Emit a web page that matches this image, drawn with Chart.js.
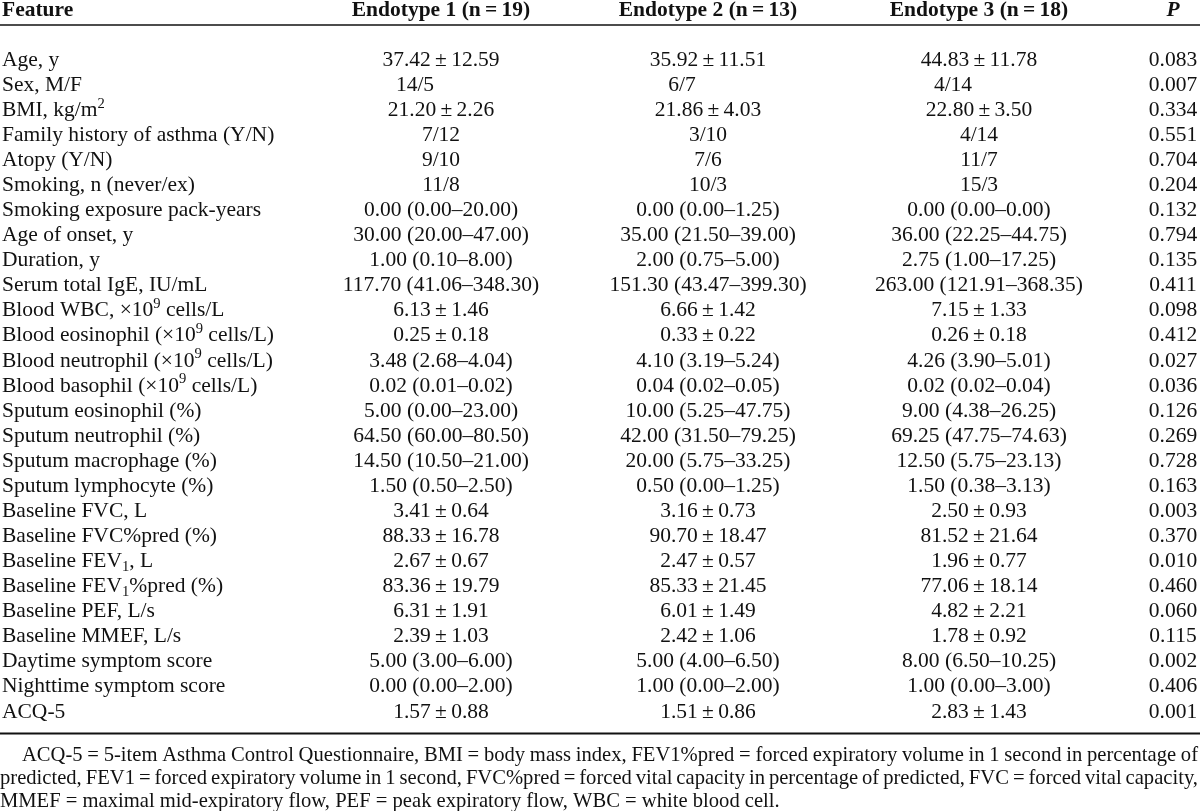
<!DOCTYPE html>
<html><head><meta charset="utf-8">
<script src="https://cdn.jsdelivr.net/npm/chart.js@4.4.1/dist/chart.umd.min.js"></script>
<style>html,body{margin:0;padding:0;background:#fff;}canvas{display:block;}</style>
</head><body>
<canvas id="c" width="1200" height="811"></canvas>
<script>
// ---- data ----
const headerFeature = "Feature";
const groupHeaders = ["Endotype 1 (n\u2009=\u200919)", "Endotype 2 (n\u2009=\u200913)", "Endotype 3 (n\u2009=\u200918)"];
const pHeader = "P";
const features = [
  "Age, y", "Sex, M/F", "BMI, kg/m^{2}", "Family history of asthma (Y/N)", "Atopy (Y/N)",
  "Smoking, n (never/ex)", "Smoking exposure pack-years", "Age of onset, y", "Duration, y",
  "Serum total IgE, IU/mL", "Blood WBC, \u00d710^{9} cells/L", "Blood eosinophil (\u00d710^{9} cells/L)",
  "Blood neutrophil (\u00d710^{9} cells/L)", "Blood basophil (\u00d710^{9} cells/L)",
  "Sputum eosinophil (%)", "Sputum neutrophil (%)", "Sputum macrophage (%)", "Sputum lymphocyte (%)",
  "Baseline FVC, L", "Baseline FVC%pred (%)", "Baseline FEV_{1}, L", "Baseline FEV_{1}%pred (%)",
  "Baseline PEF, L/s", "Baseline MMEF, L/s", "Daytime symptom score", "Nighttime symptom score", "ACQ-5"
];
const endotype1 = [
  "37.42\u2009\u00b1\u200912.59", "14/5", "21.20\u2009\u00b1\u20092.26", "7/12", "9/10", "11/8",
  "0.00 (0.00\u201320.00)", "30.00 (20.00\u201347.00)", "1.00 (0.10\u20138.00)", "117.70 (41.06\u2013348.30)",
  "6.13\u2009\u00b1\u20091.46", "0.25\u2009\u00b1\u20090.18", "3.48 (2.68\u20134.04)", "0.02 (0.01\u20130.02)",
  "5.00 (0.00\u201323.00)", "64.50 (60.00\u201380.50)", "14.50 (10.50\u201321.00)", "1.50 (0.50\u20132.50)",
  "3.41\u2009\u00b1\u20090.64", "88.33\u2009\u00b1\u200916.78", "2.67\u2009\u00b1\u20090.67", "83.36\u2009\u00b1\u200919.79",
  "6.31\u2009\u00b1\u20091.91", "2.39\u2009\u00b1\u20091.03", "5.00 (3.00\u20136.00)", "0.00 (0.00\u20132.00)", "1.57\u2009\u00b1\u20090.88"
];
const endotype2 = [
  "35.92\u2009\u00b1\u200911.51", "6/7", "21.86\u2009\u00b1\u20094.03", "3/10", "7/6", "10/3",
  "0.00 (0.00\u20131.25)", "35.00 (21.50\u201339.00)", "2.00 (0.75\u20135.00)", "151.30 (43.47\u2013399.30)",
  "6.66\u2009\u00b1\u20091.42", "0.33\u2009\u00b1\u20090.22", "4.10 (3.19\u20135.24)", "0.04 (0.02\u20130.05)",
  "10.00 (5.25\u201347.75)", "42.00 (31.50\u201379.25)", "20.00 (5.75\u201333.25)", "0.50 (0.00\u20131.25)",
  "3.16\u2009\u00b1\u20090.73", "90.70\u2009\u00b1\u200918.47", "2.47\u2009\u00b1\u20090.57", "85.33\u2009\u00b1\u200921.45",
  "6.01\u2009\u00b1\u20091.49", "2.42\u2009\u00b1\u20091.06", "5.00 (4.00\u20136.50)", "1.00 (0.00\u20132.00)", "1.51\u2009\u00b1\u20090.86"
];
const endotype3 = [
  "44.83\u2009\u00b1\u200911.78", "4/14", "22.80\u2009\u00b1\u20093.50", "4/14", "11/7", "15/3",
  "0.00 (0.00\u20130.00)", "36.00 (22.25\u201344.75)", "2.75 (1.00\u201317.25)", "263.00 (121.91\u2013368.35)",
  "7.15\u2009\u00b1\u20091.33", "0.26\u2009\u00b1\u20090.18", "4.26 (3.90\u20135.01)", "0.02 (0.02\u20130.04)",
  "9.00 (4.38\u201326.25)", "69.25 (47.75\u201374.63)", "12.50 (5.75\u201323.13)", "1.50 (0.38\u20133.13)",
  "2.50\u2009\u00b1\u20090.93", "81.52\u2009\u00b1\u200921.64", "1.96\u2009\u00b1\u20090.77", "77.06\u2009\u00b1\u200918.14",
  "4.82\u2009\u00b1\u20092.21", "1.78\u2009\u00b1\u20090.92", "8.00 (6.50\u201310.25)", "1.00 (0.00\u20133.00)", "2.83\u2009\u00b1\u20091.43"
];
const pValues = [
  "0.083", "0.007", "0.334", "0.551", "0.704", "0.204", "0.132", "0.794", "0.135", "0.411",
  "0.098", "0.412", "0.027", "0.036", "0.126", "0.269", "0.728", "0.163", "0.003", "0.370",
  "0.010", "0.460", "0.060", "0.115", "0.002", "0.406", "0.001"
];
const footnoteLines = [
  "ACQ-5 = 5-item Asthma Control Questionnaire, BMI = body mass index, FEV1%pred = forced expiratory volume in 1 second in percentage of",
  "predicted, FEV1 = forced expiratory volume in 1 second, FVC%pred = forced vital capacity in percentage of predicted, FVC = forced vital capacity,",
  "MMEF = maximal mid-expiratory flow, PEF = peak expiratory flow, WBC = white blood cell."
];

// ---- layout / style ----
const FONT = '"Liberation Serif", "Times New Roman", serif';
const SIZE = 21.5;
const FOOT_SIZE = 20.6;
const INK = '#111';

function parseRich(str) {
  const parts = [];
  const re = /(\^\{[^}]*\}|_\{[^}]*\})/g;
  let last = 0, m;
  while ((m = re.exec(str)) !== null) {
    if (m.index > last) parts.push({t: str.slice(last, m.index), k: 'n'});
    parts.push({t: m[0].slice(2, -1), k: m[0][0] === '^' ? 'sup' : 'sub'});
    last = re.lastIndex;
  }
  if (last < str.length) parts.push({t: str.slice(last), k: 'n'});
  return parts;
}
function fontFor(k, size, weight, style) {
  const s = k === 'n' ? size : size * 0.68;
  return (style || '') + ' ' + (weight || '') + ' ' + s + 'px ' + FONT;
}
function drawRich(ctx, str, x, y, align, size, weight, style) {
  const parts = parseRich(str);
  let total = 0;
  parts.forEach(p => { ctx.font = fontFor(p.k, size, weight, style); p.w = ctx.measureText(p.t).width; total += p.w; });
  let cx = align === 'center' ? x - total / 2 : (align === 'right' ? x - total : x);
  ctx.textAlign = 'left';
  ctx.textBaseline = 'alphabetic';
  const base = y + size * 0.33;
  parts.forEach(p => {
    ctx.font = fontFor(p.k, size, weight, style);
    const dy = p.k === 'sup' ? -size * 0.38 : (p.k === 'sub' ? size * 0.2 : 0);
    ctx.fillText(p.t, cx, base + dy);
    cx += p.w;
  });
}
function drawJustified(ctx, line, x0, x1, y, size, justify) {
  ctx.font = size + 'px ' + FONT;
  ctx.textAlign = 'left';
  ctx.textBaseline = 'alphabetic';
  const base = y + size * 0.33;
  const words = line.split(' ');
  const widths = words.map(w => ctx.measureText(w).width);
  const sum = widths.reduce((a, b) => a + b, 0);
  const normal = ctx.measureText(' ').width;
  const gap = justify ? Math.max(2, (x1 - x0 - sum) / (words.length - 1)) : normal;
  let cx = x0;
  words.forEach((w, i) => { ctx.fillText(w, cx, base); cx += widths[i] + gap; });
}

const tablePlugin = {
  id: 'tablePlugin',
  afterDraw(chart, args, opts) {
    const ctx = chart.ctx;
    const xs = chart.scales.x, ys = chart.scales.y;
    const area = chart.chartArea;
    const step = ys.getPixelForValue(1) - ys.getPixelForValue(0);
    ctx.save();
    ctx.fillStyle = INK;
    ctx.strokeStyle = INK;
    // header
    const hy = area.top - step * 1.46;
    drawRich(ctx, headerFeature, xs.getPixelForValue(opts.featureX), hy, 'left', SIZE, 'bold');
    groupHeaders.forEach((h, i) => drawRich(ctx, h, xs.getPixelForValue(opts.colX[i]), hy, 'center', SIZE, 'bold'));
    drawRich(ctx, pHeader, xs.getPixelForValue(opts.colX[3]), hy, 'center', SIZE, 'bold', 'italic');
    // header rule
    ctx.lineWidth = 1.6;
    ctx.beginPath();
    const ry = area.top - step * 0.84;
    ctx.moveTo(area.left, ry); ctx.lineTo(area.right, ry); ctx.stroke();
    // body
    features.forEach((f, i) => {
      const y = ys.getPixelForValue(i);
      const shift = (opts.rowShift[i] || 0);
      drawRich(ctx, f, xs.getPixelForValue(opts.featureX), y, 'left', SIZE);
      drawRich(ctx, endotype1[i], xs.getPixelForValue(opts.colX[0] + shift), y, 'center', SIZE);
      drawRich(ctx, endotype2[i], xs.getPixelForValue(opts.colX[1] + shift), y, 'center', SIZE);
      drawRich(ctx, endotype3[i], xs.getPixelForValue(opts.colX[2] + shift), y, 'center', SIZE);
      drawRich(ctx, pValues[i], xs.getPixelForValue(opts.colX[3]), y, 'center', SIZE);
    });
    // bottom rule
    ctx.lineWidth = 2;
    ctx.beginPath();
    const by = area.bottom + step * 0.42;
    ctx.moveTo(area.left, by); ctx.lineTo(area.right, by); ctx.stroke();
    // footnote
    footnoteLines.forEach((l, i) => {
      const y = by + step * 0.82 + i * step * 0.92;
      const x0 = i === 0 ? xs.getPixelForValue(opts.indentX) : area.left;
      drawJustified(ctx, l, x0, area.right - 2, y, FOOT_SIZE, i < footnoteLines.length - 1);
    });
    ctx.restore();
  }
};

new Chart(document.getElementById('c'), {
  type: 'scatter',
  data: { labels: features, datasets: [] },
  options: {
    responsive: false,
    animation: false,
    devicePixelRatio: 1,
    layout: { padding: { top: 46, bottom: 88, left: 0, right: 0 } },
    plugins: {
      legend: { display: false },
      tooltip: { enabled: false },
      tablePlugin: { featureX: 2, colX: [441, 708, 979, 1173], indentX: 22, rowShift: { 1: -26 } }
    },
    scales: {
      x: { type: 'linear', min: 0, max: 1200, display: false },
      y: { type: 'category', labels: features, offset: true, display: false }
    }
  },
  plugins: [tablePlugin]
});
</script>
</body></html>
